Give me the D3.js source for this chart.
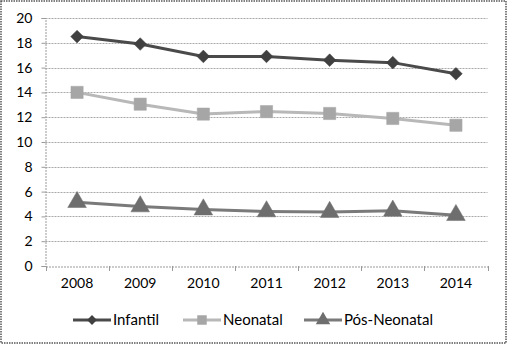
<!DOCTYPE html>
<html><head><meta charset="utf-8">
<script src="https://cdn.jsdelivr.net/npm/d3@7"></script>
<style>body{margin:0;background:#fff}svg{display:block}</style>
</head><body><svg id="c" width="508" height="345"></svg>
<script>
const years = ["2008","2009","2010","2011","2012","2013","2014"];
const infantil = [18.5, 17.9, 16.9, 16.9, 16.6, 16.4, 15.5];
const neonatal = [14.0, 13.05, 12.25, 12.45, 12.3, 11.9, 11.35];
const posNeonatal = [5.15, 4.8, 4.55, 4.4, 4.35, 4.45, 4.1];
const yTicks = [0, 2, 4, 6, 8, 10, 12, 14, 16, 18, 20];
const seriesNames = ["Infantil", "Neonatal", "Pós-Neonatal"];

const svg = d3.select("#c");
const font = "Lato, 'Open Sans', sans-serif";
const L = 45.5, R = 487.5, T = 18, B = 266;
const x = d3.scaleBand().domain(years).range([L, R]);
const y = d3.scaleLinear().domain([0, 20]).range([B, T]);

// outer border
svg.append("rect").attr("x", 1).attr("y", 1).attr("width", 505).attr("height", 342)
  .attr("fill", "#fff").attr("stroke", "#555").attr("stroke-width", 1.5).attr("stroke-dasharray", "1.5,1");

// gridlines
svg.append("g").selectAll("line").data(yTicks.filter(d => d > 0)).join("line")
  .attr("x1", L).attr("x2", R).attr("y1", d => Math.round(y(d)) + 0.5).attr("y2", d => Math.round(y(d)) + 0.5)
  .attr("stroke", "#a8a8a8").attr("stroke-width", 1).attr("stroke-dasharray", "2,1");

// y axis
const ya = svg.append("g").attr("transform", `translate(${L},0)`)
  .call(d3.axisLeft(y).tickValues(yTicks).tickSize(4).tickPadding(9));
ya.select(".domain").attr("stroke", "#9a9a9a").attr("stroke-dasharray", "2,1");
ya.selectAll(".tick line").attr("stroke", "#9a9a9a");
ya.selectAll("text").attr("font-family", font).attr("font-size", 14).attr("fill", "#000");

// x axis
const xa = svg.append("g").attr("transform", `translate(0,${B + 0.5})`)
  .call(d3.axisBottom(x).tickSize(0).tickPadding(12));
xa.select(".domain").attr("stroke", "#9a9a9a").attr("stroke-dasharray", "2,1");
xa.selectAll("text").attr("font-family", font).attr("font-size", 14).attr("fill", "#000");
// category boundary ticks
svg.append("g").selectAll("line").data(d3.range(years.length + 1)).join("line")
  .attr("x1", i => Math.round(L + i * x.step()) + 0.5).attr("x2", i => Math.round(L + i * x.step()) + 0.5)
  .attr("y1", B).attr("y2", B + 5).attr("stroke", "#9a9a9a");

const cx = d => x(d) + x.bandwidth() / 2;
const series = [
  {name: seriesNames[0], vals: infantil, line: "#4a4a4a", fill: "#404040", sym: d3.symbolSquare, rot: 45, size: 80, w: 3},
  {name: seriesNames[1], vals: neonatal, line: "#b8b8b8", fill: "#a6a6a6", sym: d3.symbolSquare, rot: 0, size: 150, w: 3},
  {name: seriesNames[2], vals: posNeonatal, line: "#7a7a7a", fill: "#6e6e6e", sym: d3.symbolTriangle, rot: 0, size: 150, w: 3}
];
const line = d3.line().x(d => cx(d.year)).y(d => y(d.v));
series.forEach(s => {
  const pts = years.map((yr, i) => ({year: yr, v: s.vals[i]}));
  svg.append("path").datum(pts).attr("d", line).attr("fill", "none")
    .attr("stroke", s.line).attr("stroke-width", s.w);
  svg.append("g").selectAll("path").data(pts).join("path")
    .attr("d", d3.symbol().type(s.sym).size(s.size))
    .attr("transform", d => `translate(${cx(d.year)},${y(d.v)}) rotate(${s.rot})`)
    .attr("fill", s.fill).attr("stroke", s.fill).attr("stroke-width", 0.5);
});

// legend
const legX = [73, 183, 304];
const lg = svg.append("g");
series.forEach((s, i) => {
  const g = lg.append("g").attr("transform", `translate(${legX[i]},320)`);
  g.append("line").attr("x1", 0).attr("x2", 38).attr("y1", 0).attr("y2", 0)
    .attr("stroke", s.line).attr("stroke-width", 3);
  g.append("path").attr("d", d3.symbol().type(s.sym).size(s.size * 0.6))
    .attr("transform", `translate(19,0) rotate(${s.rot})`).attr("fill", s.fill);
  g.append("text").attr("x", 40).attr("y", 5).text(s.name)
    .attr("font-family", font).attr("font-size", 15).attr("fill", "#000");
});
</script></body></html>
